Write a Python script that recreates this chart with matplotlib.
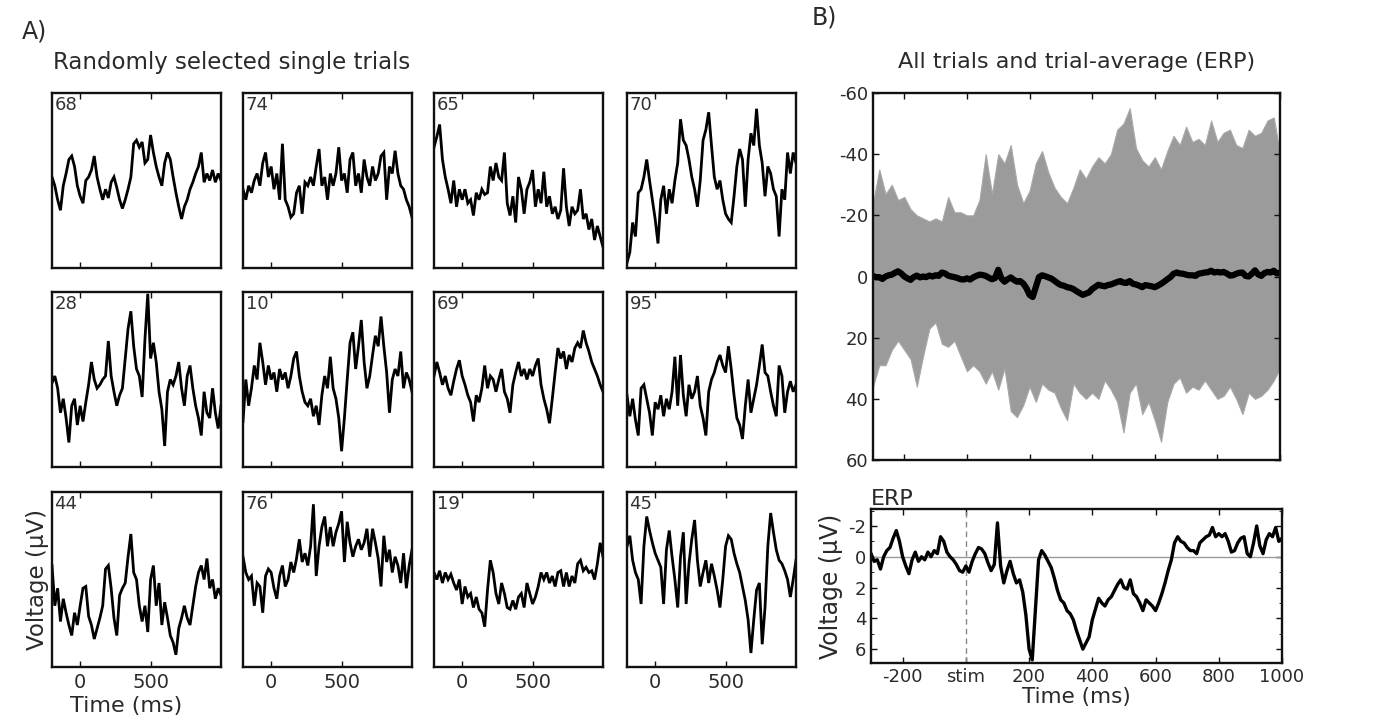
import numpy as np
import matplotlib
matplotlib.use("Agg")
import matplotlib.pyplot as plt
from matplotlib.ticker import MultipleLocator

# ---------------- data ----------------
trial_ids = [68, 74, 65, 70, 28, 10, 69, 95, 44, 76, 19, 45]
trial_t0, trial_dt = -200, 20  # ms

trial_68 = [2, -3, -11, -17, -3, 4, 12, 14, 8, -3, -9, -13, 0, 2, 6, 14, 2, -5, -11, -5,
            -10, -1, 2, -4, -11, -16, -11, -5, 2, 21, 23, 19, 22, 10, 12, 26, 16, 8, 2, -3,
            10, 16, 12, 2, -7, -15, -22, -15, -11, -5, -1, 4, 8, 16, -1, 4, 0, 6, -1, 4, 0]
trial_74 = [-5, -11, -3, -7, 0, 4, -3, 10, 16, 2, 8, -5, 4, -11, 21, -11, -15, -21, -19, -7,
            -3, -19, -1, -3, 2, -3, 8, 18, -3, 2, -11, 4, -3, 4, 19, 0, 4, -7, 12, 16,
            -3, 4, -7, 12, 2, -3, 8, 0, 4, 14, 16, -11, 8, 4, 17, 4, -3, -5, -11, -15, -21]
trial_65 = [19, 25, 32, 12, 2, -5, -13, 0, -15, -5, -11, -5, -13, -11, -20, -7, -11, -5, -8, -7,
            8, 0, 10, 2, 0, 16, -13, -20, -9, -24, 2, -5, -19, -5, -1, 6, -15, -5, -13, 5,
            -15, -9, -19, -15, -22, -17, 7, -15, -26, -15, -19, -17, -5, -22, -19, -28, -22, -34, -26, -32, -38]
trial_70 = [-47, -41, -24, -32, -7, -5, 2, 12, 0, -11, -22, -36, -11, -3, -19, -5, -13, 0, 10, 35,
            23, 20, 12, 2, -5, -15, 0, 23, 29, 39, 20, 2, -5, 0, -11, -19, -22, -24, -9, 8,
            18, 12, -15, 12, 27, 20, 41, 20, 10, -9, 8, 4, -5, -9, -32, -5, -11, 16, 4, 16, 10]
trial_28 = [-2, 2, -5, -19, -11, -22, -36, -15, -11, -26, -15, -24, -13, -3, 10, 0, -5, -3, 0, 2,
            22, 2, -7, -15, -9, -5, 12, 29, 39, 19, 6, 2, -10, 23, 49, 12, 21, 10, -7, -17,
            -38, -7, 0, -3, 2, 10, -5, -15, 2, 8, -5, -15, -22, -32, -7, -19, -22, -5, -19, -28, -15]
trial_10 = [-24, 0, -15, -5, 8, 0, 21, 10, -3, 8, 0, 4, -7, 6, 0, 4, -5, 2, 12, 16,
            2, -7, -13, -15, -11, -21, -15, -26, -9, 2, -5, 13, -5, -11, -22, -41, -22, 0, 21, 27,
            6, 19, 34, 10, -5, 2, 14, 25, 19, 36, 19, 4, -19, 0, 6, 2, 16, -5, 4, 0, -7]
trial_69 = [2, 10, 4, -3, 2, -5, -9, -1, 6, 11, 2, -3, -9, -13, -24, -9, -13, -5, 8, -5,
            2, 0, -7, 0, 6, -7, -11, -19, -3, 4, 10, 2, 6, 0, 6, 2, 8, 12, -3, -11,
            -17, -25, -11, 4, 18, 12, 16, 6, 14, 10, 18, 21, 18, 28, 21, 16, 10, 6, 2, -3, -7]
trial_95 = [-9, -21, -11, -23, -32, -5, -3, -11, -19, -32, -13, -17, -9, -21, -11, -17, -7, 13, -15, 14,
            -9, -21, -3, -11, -7, 2, -15, -22, -32, -7, 0, 4, 10, 14, 8, 4, 19, 6, -9, -22,
            -26, -34, -15, 0, -19, -11, -3, 8, 20, 4, 2, -7, -15, -21, 8, 2, -19, -7, -1, -7, -3]
trial_44 = [8, -15, -5, -24, -11, -19, -26, -32, -19, -26, -15, -5, -4, -21, -26, -34, -28, -22, -15, 6,
            8, -5, -22, -32, -9, -5, -2, 13, 26, 4, 0, -15, -24, -15, -30, 0, 8, -15, -2, -26,
            -13, -22, -32, -36, -43, -28, -22, -15, -22, -26, -15, -4, 4, 8, 0, 12, -5, 0, -11, -5, -9]
trial_76 = [13, 4, 0, 2, -15, -2, -4, -19, 2, 6, 4, -5, -11, 2, 8, -4, 0, 10, 4, 12,
            23, 10, 15, 8, 19, 43, 2, 19, 30, 36, 19, 30, 19, 27, 32, 39, 10, 33, 21, 13,
            19, 23, 17, 21, 29, 13, 29, 21, 12, -4, 25, 10, 17, 4, 13, 8, -2, 15, -5, 8, 17]
trial_19 = [4, 0, 5, -2, 4, 0, 3, -2, -6, 0, -14, -4, -10, -8, -16, -10, -17, -19, -27, -6,
            11, 4, -8, -14, -2, -8, -16, -17, -12, -17, -10, -8, -16, -2, -8, -14, -10, -4, 4, 0,
            4, -2, 2, -4, 4, 5, -4, 4, -4, 2, -2, 9, 11, 5, 7, 4, 5, 0, 9, 21, 13]
trial_45 = [19, 25, 11, 4, 0, -14, 19, 36, 28, 21, 15, 11, 7, -14, 17, 28, 13, 0, -16, 13,
            27, -14, 9, 23, 34, 11, -4, 4, 11, -2, 9, 2, -6, -16, 0, 19, 25, 23, 15, 9,
            4, -4, -12, -23, -42, -23, -6, -2, -37, -16, 19, 38, 27, 17, 11, 9, 5, 0, -10, 0, 11]

trials = [trial_68, trial_74, trial_65, trial_70, trial_28, trial_10,
          trial_69, trial_95, trial_44, trial_76, trial_19, trial_45]

# all-trials envelope (µV, negative up) sampled every 20 ms from -300 ms
band_t0, band_dt = -300, 20
band_upper = [-24, -35, -27, -30, -25, -26, -22, -20, -19, -18,
              -19, -18, -26, -21, -21, -20, -20, -25, -40, -27,
              -40, -37, -43, -30, -24, -28, -37, -41, -34, -29,
              -26, -24, -29, -35, -32, -36, -39, -37, -40, -48,
              -50, -55, -42, -38, -36, -39, -35, -41, -46, -43,
              -49, -44, -45, -43, -51, -44, -47, -48, -43, -42,
              -48, -46, -47, -51, -52, -40]
band_lower = [36, 29, 29, 24, 21, 24, 27, 36, 26, 17,
              15, 22, 23, 21, 26, 31, 29, 31, 35, 31,
              37, 30, 44, 46, 42, 36, 41, 35, 37, 38,
              43, 47, 35, 38, 40, 38, 40, 34, 37, 41,
              51, 38, 35, 45, 41, 47, 54, 41, 35, 33,
              38, 36, 37, 34, 37, 40, 39, 36, 40, 45,
              38, 40, 39, 37, 34, 30]

# ERP (µV) sampled every 10 ms from -300 ms
erp_t0, erp_dt = -300, 10
erp = [-0.2, 0.3, 0.2, 0.8, 0.0, -0.4, -0.6, -1.2, -1.7, -1.0,
       0.0, 0.6, 1.1, 0.2, -0.3, 0.3, 0.0, 0.2, -0.3, 0.0,
       -0.4, -0.2, -1.3, -1.0, -0.3, 0.0, 0.2, 0.5, 0.9, 1.0,
       0.6, 1.0, 0.3, -0.2, -0.6, -0.5, -0.2, 0.4, 0.9, 0.5,
       -2.2, 0.6, 1.7, 0.9, 0.3, 1.1, 1.7, 1.5, 2.3, 3.8,
       6.0, 6.7, 3.5, 0.2, -0.4, -0.1, 0.3, 0.7, 1.4, 2.2,
       2.8, 3.0, 3.5, 3.7, 4.1, 4.8, 5.4, 6.0, 5.6, 5.2,
       4.1, 3.4, 2.7, 3.0, 3.2, 2.8, 2.6, 2.2, 1.8, 1.5,
       2.0, 2.1, 1.5, 2.4, 2.6, 3.0, 3.5, 2.8, 3.0, 3.2,
       3.5, 3.0, 2.4, 1.7, 0.9, 0.2, -0.9, -1.3, -1.0, -0.9,
       -0.6, -0.4, -0.4, -0.2, -0.9, -1.1, -1.3, -1.4, -1.9, -1.3,
       -1.5, -1.3, -1.5, -1.0, -0.3, -0.4, -0.9, -1.2, -1.3, -0.2,
       0.0, -0.9, -2.0, -0.7, -0.2, -1.1, -1.5, -1.3, -1.9, -1.0,
       -1.2]

erp_xticks = [-200, 0, 200, 400, 600, 800, 1000]
erp_xticklabels = ["-200", "stim", "200", "400", "600", "800", "1000"]
small_xticks = [0, 500]
band_yticks = [-60, -40, -20, 0, 20, 40, 60]
erp_yticks = [-2, 0, 2, 4, 6]

# ---------------- figure ----------------
plt.rcParams["font.family"] = ["DejaVu Sans"]
plt.rcParams["axes.unicode_minus"] = False
W, H = 1392, 725
fig = plt.figure(figsize=(W / 100, H / 100), dpi=100)
TXT = "#2a2a2a"


def px_axes(l, t, r, b):
    return fig.add_axes([l / W, 1 - b / H, (r - l) / W, (b - t) / H])


def style(ax, lw=1.7, labelsize=13):
    for s in ax.spines.values():
        s.set_linewidth(lw)
        s.set_color("#111111")
    ax.tick_params(direction="in", top=True, right=True, length=4, width=1,
                   labelsize=labelsize, colors="#111111", labelcolor=TXT)


col_left = [52, 243, 434, 627]
row_top = [93, 292, 492]
bw, bh = 169, 175

for i, (tid, vals) in enumerate(zip(trial_ids, trials)):
    r, c = divmod(i, 4)
    ax = px_axes(col_left[c], row_top[r], col_left[c] + bw, row_top[r] + bh)
    t = trial_t0 + trial_dt * np.arange(len(vals))
    ax.plot(t, vals, color="black", lw=2.0, solid_joinstyle="miter")
    ax.set_xlim(-200, 1000)
    ax.set_ylim(-50, 50)
    ax.set_xticks(small_xticks)
    ax.set_yticks([])
    style(ax, labelsize=14)
    ax.tick_params(pad=4)
    if r < 2:
        ax.set_xticklabels([])
    ax.text(0.015, 0.985, str(tid), transform=ax.transAxes, ha="left", va="top",
            fontsize=13, color="#333333")
    if r == 2 and c == 0:
        ax.set_xlabel("Time (ms)", fontsize=16, color=TXT)
        ax.xaxis.set_label_coords(0.44, -0.165)
        ax.set_ylabel("Voltage (µV)", fontsize=16.5, color=TXT, labelpad=2)

# Panel B, all trials
axB = px_axes(873, 93, 1280, 460)
tb = band_t0 + band_dt * np.arange(len(band_upper))
axB.fill_between(tb, band_lower, band_upper, color="#9b9b9b", lw=0.8, edgecolor="#a8a8a8")
te = erp_t0 + erp_dt * np.arange(len(erp))
axB.plot(te, erp, color="black", lw=4.5)
axB.set_xlim(-300, 1000)
axB.set_ylim(60, -60)
axB.set_yticks(band_yticks)
axB.set_xticks(erp_xticks)
axB.set_xticklabels([])
style(axB)

# ERP panel
axE = px_axes(871, 509, 1282, 663)
axE.axhline(0, color="#9a9a9a", lw=1)
axE.axvline(0, color="#888888", lw=1, ls=(0, (4, 3)))
axE.plot(te, erp, color="black", lw=2.4)
axE.set_xlim(-300, 1000)
axE.set_ylim(6.9, -3.1)
axE.set_yticks(erp_yticks)
axE.yaxis.set_minor_locator(MultipleLocator(1))
axE.set_xticks(erp_xticks)
axE.set_xticklabels(erp_xticklabels)
style(axE)
axE.tick_params(which="minor", direction="in", right=True, length=2.5)
axE.set_title("ERP", loc="left", fontsize=16, color=TXT, pad=3)
axE.set_xlabel("Time (ms)", fontsize=15.5, color=TXT, labelpad=1)
axE.set_ylabel("Voltage (µV)", fontsize=17, color=TXT, labelpad=4)

# panel labels and titles
fig.text(22 / W, 1 - 32 / H, "A)", fontsize=17, color=TXT, va="center", ha="left")
fig.text(53 / W, 1 - 62 / H, "Randomly selected single trials", fontsize=16.5,
         color=TXT, va="center", ha="left")
fig.text(812 / W, 1 - 17 / H, "B)", fontsize=17, color=TXT, va="center", ha="left")
fig.text(1077 / W, 1 - 62 / H, "All trials and trial-average (ERP)", fontsize=16,
         color=TXT, va="center", ha="center")

fig.savefig("out.png", dpi=100, facecolor="white")
